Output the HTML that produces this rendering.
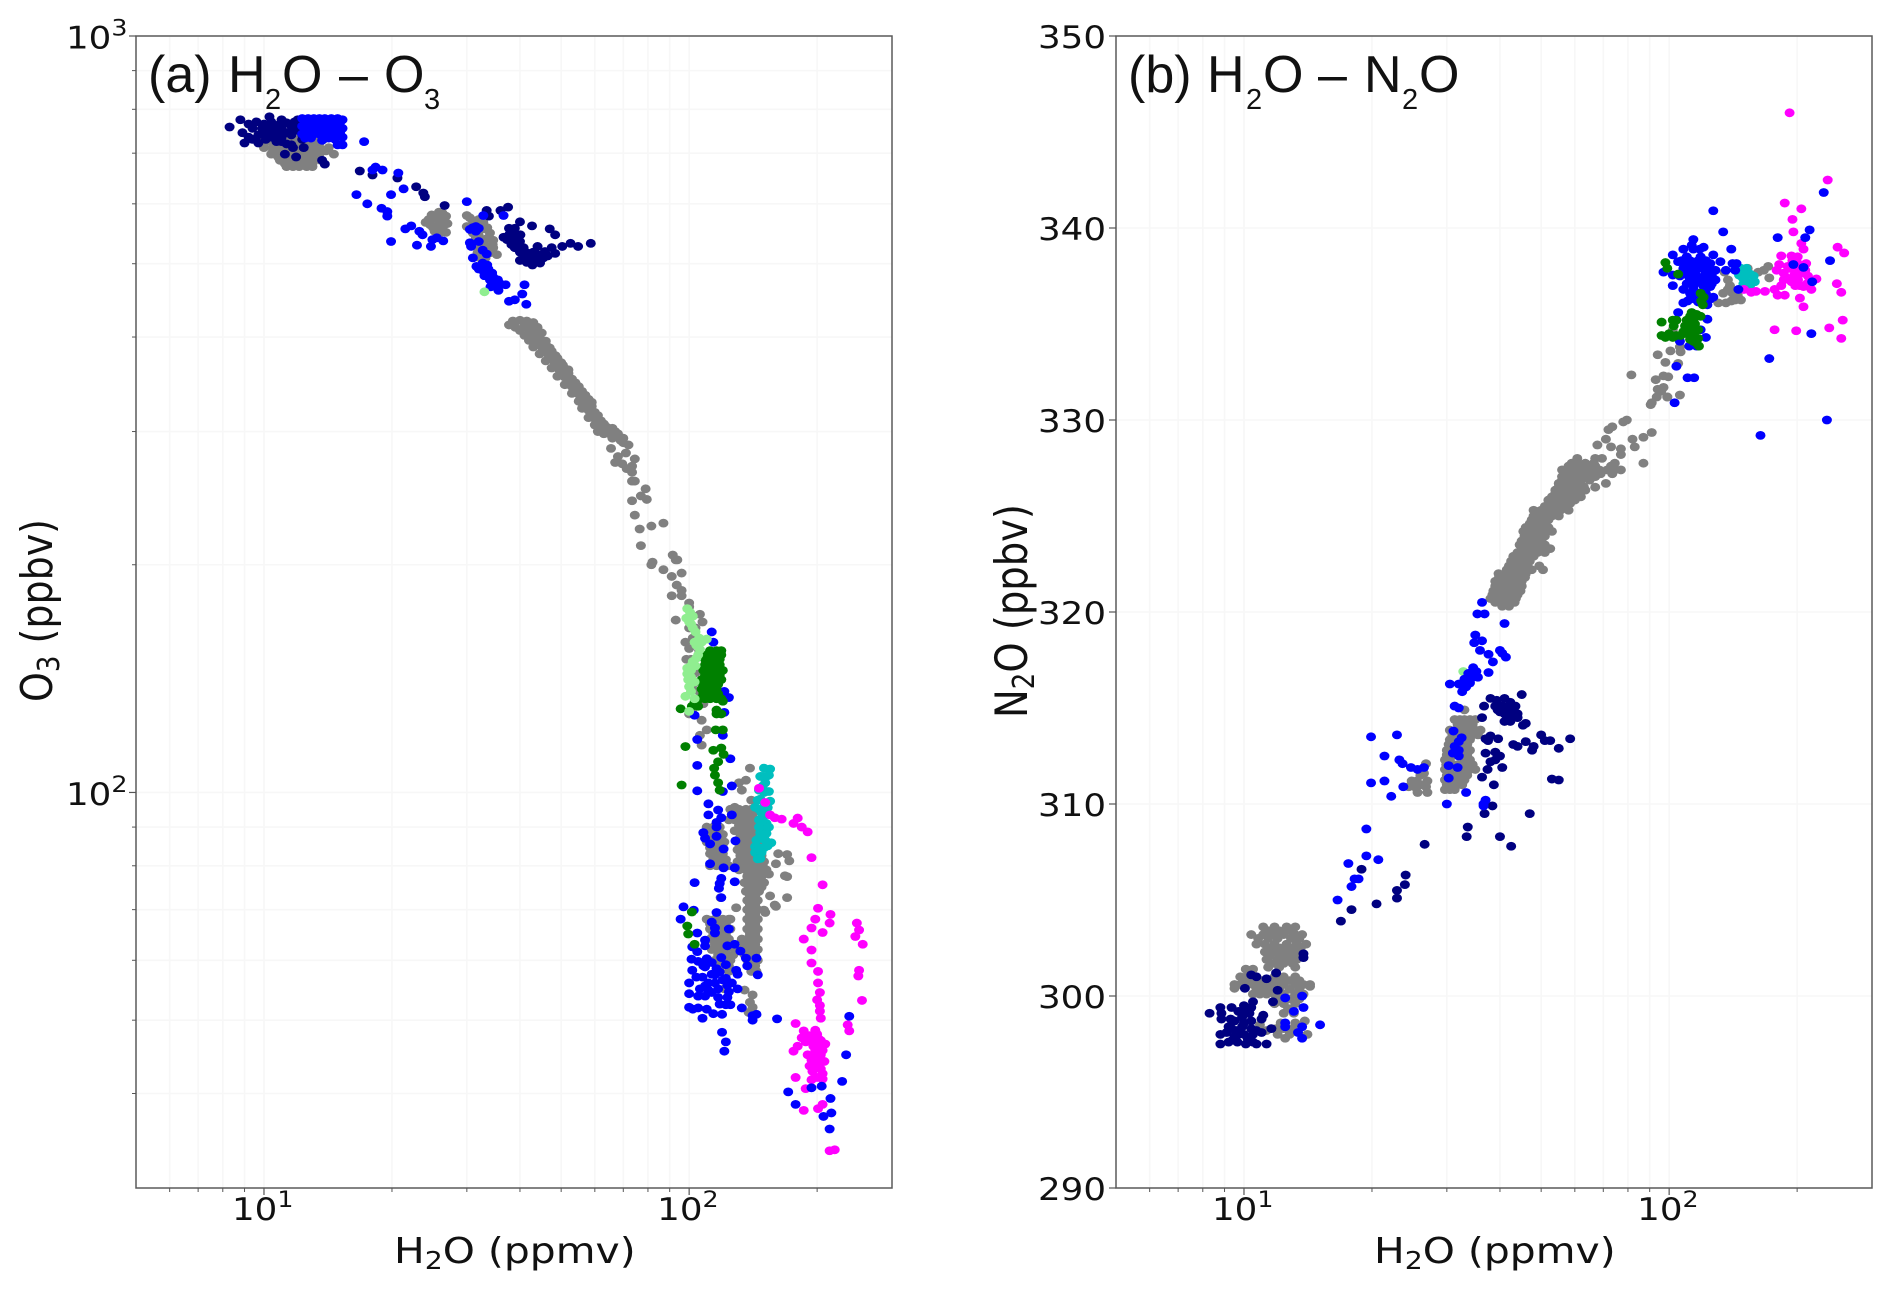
<!DOCTYPE html>
<html lang="en">
<head>
<meta charset="utf-8">
<title>H2O tracer correlations</title>
<style>
html,body{margin:0;padding:0;background:#fff;width:1892px;height:1291px;overflow:hidden}
svg{display:block}
text{font-family:"DejaVu Sans","Liberation Sans",sans-serif;fill:#111}
.panel-title{font-family:"Liberation Sans",sans-serif;font-size:52px}
</style>
</head>
<body>
<svg id="figure" xmlns="http://www.w3.org/2000/svg" width="1892" height="1291" viewBox="0 0 1892 1291">
  <rect x="0" y="0" width="1892" height="1291" fill="#fff"/>
  <g id="panelA"></g>
  <g id="panelB"></g>
  <text class="panel-title" y="92"><tspan x="148">(a)</tspan><tspan x="228">H</tspan><tspan x="265" y="109" font-size="29">2</tspan><tspan x="282" y="92">O</tspan><tspan x="339">–</tspan><tspan x="384">O</tspan><tspan x="424" y="109" font-size="29">3</tspan></text>
  <text class="panel-title" y="92"><tspan x="1128">(b)</tspan><tspan x="1207">H</tspan><tspan x="1246" y="109" font-size="29">2</tspan><tspan x="1263" y="92">O</tspan><tspan x="1318">–</tspan><tspan x="1364">N</tspan><tspan x="1402" y="109" font-size="29">2</tspan><tspan x="1419" y="92">O</tspan></text>
  <text transform="translate(394,1263) scale(1.135,1)" font-size="36">H<tspan font-size="25" dy="6">2</tspan><tspan dy="-6">O (ppmv)</tspan></text>
  <text transform="translate(1374,1263) scale(1.135,1)" font-size="36">H<tspan font-size="25" dy="6">2</tspan><tspan dy="-6">O (ppmv)</tspan></text>
  <text transform="translate(52,702) scale(1.15,1) rotate(-90)" font-size="38">O<tspan font-size="26" dy="6">3</tspan><tspan dy="-6"> (ppbv)</tspan></text>
  <text transform="translate(1027,718) scale(1.15,1) rotate(-90)" font-size="38.5">N<tspan font-size="26" dy="6">2</tspan><tspan dy="-6">O (ppbv)</tspan></text>
</svg>
<script>
/* Axis ticks */
const xMajorTicks = [10, 100];
const xMajorExponents = ["1", "2"];
const xMinorTicks = [6, 7, 8, 9, 20, 30, 40, 50, 60, 70, 80, 90, 200];
const o3MajorTicks = [100, 1000];
const o3MajorExponents = ["2", "3"];
const o3MinorTicks = [40, 50, 60, 70, 80, 90, 200, 300, 400, 500, 600, 700, 800, 900];
const n2oMajorTicks = [290, 300, 310, 320, 330, 340, 350];
const n2oTickLabels = ["290", "300", "310", "320", "330", "340", "350"];

/* Panel (a): [H2O ppmv, O3 ppbv] */
const panelAGray = [
[9.6,730],[10.2,730],[10.8,730],[11.4,730],[12,730],[12.6,730],[13.2,730],[13.8,730],
[10,721],[10.5,721],[11,721],[11.5,721],[12,721],[12.5,721],[13,721],[13.5,721],
[10,712],[10.5,712],[11,712],[11.5,712],[12,712],[12.5,712],[13,712],[13.5,712],[14.2,712],
[10.5,705],[11,705],[11.5,705],[12,705],[12.5,705],[13,705],[13.5,705],[14,705],
[10.4,698],[10.8,698],[11.4,698],[11.9,698],[12.4,698],[13,698],[13.5,698],[14.6,698],
[10.8,692],[11.2,692],[11.7,692],[12.2,692],[12.7,692],[13.2,692],
[10.9,685],[11.3,685],[11.7,685],[12.1,685],[12.6,685],[13.1,685],[13.6,685],
[11.2,678],[11.6,678],[12,678],[12.5,678],[13,678],
[11.3,672],[11.7,672],[12.1,672],[12.6,672],[13,672],
[24,567],[24.8,580],[25.8,585],[26.8,578],[27,565],[26.8,550],[25.8,548],[25,558],[25.8,567],[24.4,572],[26.3,558],[25,575],[26,575],[25.2,552],[26.5,570],[24.6,563],[26.3,583],
[30,579],[30,560],[31,549],[32.8,567],[34,549],[34.6,537],[34.6,525],[35.3,514],[33.2,509],[31.8,517],[31,533],[32.8,533],[30.5,575],[33.6,525],[31.5,565],[32,545],
[31,570],[33,556],[33.5,540],[32,525],[33,516],[34.5,530],[31.5,540],[30.8,553],[33.5,558],[32,572],[34,517],[32,510],
[37.7,415],[38.5,420],[40,421],[41.5,420],[43,418],[40,408],[42,410],[44,412],[41,402],[43,404],[45,405],[42,396],[44,396],[46,395],[43,388],[45,388],[47,387],[44.5,380],[46.5,380],[48.5,378],[46,372],[48,372],[50,370],[47.5,364],[49.5,362],[52,362],[49,355],[51,354],[53,352],[51,346],[53,344],[55,344],[53,337],[55,336],[57,335],[55,329],[57,328],[59,328],[56,322],[58,320],[60,318],[58,313],[60,312],[62,310],[60,306],[62,304],[64,304],[66,303],[61,300],[63,298],[65,298],[68,298],[70,290],[66,294],[69,292],[71,281],[74.5,276],[67,273],[69.6,272],[71.3,268],[73.4,265],[73.4,270],[68,278],[65.5,285],
[39,412],[41,414],[43,411],[42.5,399],[44.5,400],[44,392],[46,391],[45.5,384],[47.5,383],[47,376],[49,375],[48.5,368],[50.5,367],[50,358],[52,358],[52,349],[54,348],[54,340],[56,339],[56,332],[58,331],[57,325],[59,324],[59,316],[61,315],[61,308],[63,307],[62,301],[64,301],[67,300],[70,294],[72,288],
[73.4,258],[74.5,258],[79,252],[77,246.6],[79.5,244],[73.4,243],[74.5,232.6],[76.5,223],[81.5,225],[87,227],[77,212],
[82,201.6],[91.5,206],[93.8,203],[81.5,200],[93,203],[87,197],[91,193],[96,195],[93.5,188],[96,185],[91,182],[96,182],[100,178],[106,172],[93,169],[107.5,168],[98,158],[100,155],[98.5,150],
[100,176],[103.5,165],[105.6,154],[101,150],[103.5,144],[101.5,138],[105.6,136],[108,131],[101.5,128],[100,127],[107,124.6],[110,121],[106,119],[107,115.5],[102,160],[101,172],[104,158],[100,165],[104,140],
[139,107.7],[136,103.8],[131,103],[133,100.7],[140,97.7],[128,95.6],[131,93.4],
[125,95],[131,95],[136,95],[140,95],[124,92],[128,92],[133,92],[138,92],[143,92],[128,89],[133,89],[138,89],[143,89],[130,86],[135,86],[140,86],[146,86],[130,84],[135,84],[140,84],[146,84],[130,81],[135,81],[140,81],[146,81],[150,81],[131,79],[136,79],[141,79],[146,79],[152,79],[135,76],[140,76],[145,76],[150,76],[136,74],[141,74],[146,74],[140,72],[144,72],
[126,93.5],[131,93.5],[136,93.5],[141,93.5],[131,90.5],[136,90.5],[141,90.5],[132,87.5],[137,87.5],[143,87.5],[132,85],[138,85],[143,85],[132,82.5],[138,82.5],[143,82.5],[148,82.5],[133,80],[138,80],[143,80],[149,80],[137,77.5],[142,77.5],[148,77.5],[138,75],[143,75],[148,75],[139,73],[143,73],
[162,83],[170,82.8],[160,80.5],[172,81.2],[168,77.6],[170,77.4],[154,78],[148,76],[155,73],[170,72.6],[160,70.7],[150,69.9],[151,69.4],[129,70.4],[159,71],
[137,72],[141,72],[145,72],[137,70],[141,70],[145,70],[137,68],[141,68],[145,68],[137,66],[141,66],[145,66],[137,64],[141,64],[145,64],[133,64],[137,62],[141,62],[145,62],[133,62],[137,60],[141,60],[145,60],[140,58],[144,58],
[139,71],[143,71],[139,69],[143,69],[139,67],[143,67],[139,65],[143,65],[135,63],[139,63],[143,63],[135,61],[139,61],[143,61],[139,59],[143,59],
[110,90],[114,90],[118,90],[110,86],[114,86],[118,86],[121,86],[112,83],[116,83],[120,83],[112,80],[116,80],[120,80],[124,80],[118.6,72.6],[112,67.8],[125,68],
[112,88],[116,88],[120,88],[112,84.5],[116,84.5],[120,84.5],[114,81.5],[118,81.5],[122,81.5],
[110,68],[115,68],[120,68],[124,68],[112,66],[116,66],[120,66],[125,66],[112,64],[116,64],[120,64],[124,64],[113,62],[118,62],[122,62],[128,62],[115,60],[120,60],[125,60],[118,58],[124,58],[121,55],
[112,67],[117,67],[122,67],[114,65],[118,65],[122,65],[115,63],[120,63],[125,63],[117,61],[122,61],[127,61],[119,59],[124,59],
[135,54.8],[141,54],[139,52.8],[141,52],[138,51.2]
];
const panelANavy = [
[8.3,758],[8.8,775],[8.9,745],[9,722],[9.4,755],[9.6,770],[9.7,740],[9.7,722],[10,765],[10,745],[10.1,730],[10.3,782],[10.5,760],[10.6,740],[10.7,725],[11,775],[11,755],[11,735],[11.3,720],[11.6,760],[11.6,740],[12,775],[12,750],[12.3,730],[12.5,745],[13,760],[13,740],[13.5,750],
[9.2,765],[9.2,735],[9.9,755],[10.4,770],[10.3,750],[10.4,735],[10.9,765],[10.8,748],[11.3,768],[11.3,745],[11.7,750],[11.8,770],[12,760],[12.3,740],[12.5,765],[11,725],[9.4,730],
[11.6,718],[12.4,712],[11.2,698],[11.9,692],[13.7,685],[13.9,677],[11.7,712],
[16.8,663],[18,655],[20.6,649],[22.8,632],[23.7,620],[23.9,613],[26.6,597],
[33.4,588],[33.8,578],[36,588],[37.5,594],[40,568],[42.7,561],[47,556],[48.4,546],[36.6,542],[37.7,557],[38.9,557],[40.1,546],[38,538],[39.4,534],[38.9,525],[37.7,546],[40.8,525],
[38.5,548],[37.3,538],[39,540],[40,535],[38.2,530],[40,518],[42,510],[43,505],[44.5,507],[46.5,512],[43,518],[41,512],
[40,505],[41.5,517],[42.8,498],[41.5,502],[44,527],[44.6,501],[44,514],[45.8,519],[47.5,525],[48.4,516],[45.4,509],[50.3,527],[52.6,532],[54.8,527],[58.7,532]
];
const panelABlue = [
[12.3,778],[12.7,778],[13.1,778],[13.5,778],[13.9,778],[14.4,778],[14.9,778],[15.3,775],
[12.5,769],[12.9,769],[13.3,769],[13.7,769],[14.2,769],[14.7,769],[15.1,769],
[12.3,760],[12.7,760],[13.1,760],[13.5,760],[13.9,760],[14.4,760],[14.9,760],[15.3,755],
[12.5,751],[12.9,751],[13.3,751],[13.7,751],[14.2,751],[14.7,751],[15.1,745],
[12.3,742],[12.7,742],[13.1,742],[13.5,742],[13.9,742],[14.4,742],[14.9,742],[15.3,735],[13.7,728],[14.9,718],[15.3,718],[12.5,733],[12.9,733],[14.2,733],[14.7,730],
[17.2,725],[18,665],[18.3,671],[19,665],[20.7,659],[16.5,617],[17.5,600],[18.9,592],[19.5,586],[19.5,578],[19.9,617],[21.3,628],[19.9,535],[21.5,556],[22.2,561],[23.2,552],[23.6,546],[22.9,529],[24.7,527],[24.9,538],[25.5,541],[26.4,536],
[30,604],[32.8,579],[31.5,560],[30.5,555],[32,557],[30.5,533],[30.7,527],[32,535],[32.7,521],[33.4,515],[31,509],[31.6,496],[32.7,501],[33.5,498],[33.7,492],[32.8,489],[34.4,486],[34.6,480],[35.5,476],[36,470],[34.1,466],[35.3,465],[37,469],[35.6,461],[36.6,579],[41,469],[40.5,456],[41.4,442],[37.7,446],[38.9,448],
[31,558],[31.5,552],[32,492],[33,482],[34,476],[35,470],
[113,163],[114,158],[118,153.5],[121,136],[124,133.5],[121,127.6],[103,126.5],[104.5,117.5],[120,119],[125,110.8],[104.5,108.6],[104.5,100.5],[120,100.3],[126,102],[111,96.6],[111,93.4],[117,94.8],[126,93.4],[119,92.6],[116,91.3],[116,90],[108,88.5],[109,87],[116,87.5],[112,85.5],[128.5,86.3],[120.5,84.2],[112,80.5],[120.5,79.5],[128,79.5],[103,76],[128,76.2],[119,77],[118,75.8],[117.5,74.7],[119,72.6],
[97,70.6],[102.5,69.9],[95.5,68],[116,69.4],[113,67.4],[115,66.2],[115,65.2],[124,66],[104.5,65.2],[109,63.8],[109,62.7],[123,62.7],[128,63],[132,61.7],[101.7,62.5],[104.5,61.6],[136,60.4],[144,60.4],[101.3,60.2],[137,59],[145,57.4],
[105,59.8],[113,59.6],[122,59.2],[109,58.8],[101.7,58.2],[118,57.9],[129,58.2],[130,57.5],[107.5,57],[115,57.4],[122,56.8],[100,56],[111,56],[109,55.5],[123,55.6],[117,55],[130,55],[113,54.4],[100,54.2],[105,53.8],[109,53.8],[117,53.6],[123,53.6],[100,52],[105,51.9],[102,51.7],[110,51.7],[114,51],[119.5,50.9],[107.5,50.3],[122,52.4],[125,52.4],[133,51.9],[141,50.7],[144,50.9],[141,50],
[108,59],[116,58.5],[120,56.5],[111,54.8],[106,55],[118,52.5],[124,54.5],[113,57.5],[104,57],[126,56],[110,60.3],[119,60.5],[115,56],
[119.5,48.2],[122,46.8],[121,45.5],
[161,50.2],[238,50.6],[234,45],[229,41.5],[194,40.7],[205,40.9],[171,40.2],[215,39.4],[178,38.7],[216,37.7],[207,37.3],[214,35.9]
];
const panelALightGreen = [
[33,459],[99,175],[98.5,170],[102,171],[101,167],[103.5,163],[105.6,160],[110,159.5],[104,156.5],[106,154.5],[104,150.5],[101,147],[103.5,147],[99,143.5],[103,140],[100,138],[98,134],[103,133],[100,128],[101,145],[99,146],
[100.5,173],[100,168],[102,165],[107,158],[103,158],[105,152],[102,149],[101,142],[101,136],[99.5,141]
];
const panelAGreen = [
[112,154],[116,154],[119,154],[109,150],[112,150],[115,150],[118,150],[108,145],[111,145],[114,145],[117,145],[120,145],[107,141],[110,141],[113,141],[116,141],[119,141],[107,137],[110,137],[113,137],[116,137],[106,133],[109,133],[112,133],[116,133],[119,133],[120,132],[103,131.5],[101.5,130],
[110,152],[113,152],[116,152],[119,152],[109,147.5],[112,147.5],[115,147.5],[118,147.5],[109,143],[112,143],[115,143],[118,143],[108,139],[111,139],[114,139],[117,139],[108,135],[111,135],[114,135],[117,135],[105,130],
[95.5,129],[116,128.5],[119,127],[116,127],[115.5,121],[120,121],[98,115],[114,113.7],[119,114.5],[120.5,112.3],[117,109.8],[114.5,107.7],[115,105.4],[117,103],[96,102.3],[118,100.7],
[101.5,69.5],[99,66.6],[99.5,65],[103,63]
];
const panelACyan = [
[150,107.7],[155,107.4],[154,105.4],[147,105],[151,103],[146,100.7],[154,100.3],[145,97.7],[155,97.4],[150,97],[143,95.6],[148,94],[146,92],[152,91],[148,90],[152,88.3],[146,87],[156,85.8],[143,84.8],[150,84.5],[143,83.3],[148,83.3],[145,81.7],[151,86.5],
[149,105],[152,105],[150,100],[150,95],[146,95],[152,93.5],[147,88.5],[150,88],[146,84.5],[147,81.8],[153,95.5],[147,98],[149,102],[154,90],[153,85],[144,86.5],[146,90],[149,92]
];
const panelAMagenta = [
[146,101.3],[151,97],[155,93.4],[159,92.6],[165,92.2],[180,92.5],[176,91],[184,90],[190,88.7],[194,82],[206,75.5],[201,70.3],[215,69],[198,68],[214,67.2],[194,66.2],[206,65.3],[186,64],[194,61.9],[248,67.2],[251,65.8],[246,64.5],[256,63],
[194,59.5],[201,58],[201,56],[203,54.4],[200,53.2],[203,52.3],[203,51.4],[204,50.3],[251,58.2],[250,57.2],[255,53.1],[236,49.3],[238,48.4],
[178,49.5],[186,48.4],[198,48.5],[200,47.9],[184,47.4],[192,47.7],[195,47],[209,46.5],[180,46.2],[176,45.5],[201,46.4],[206,45.6],[198,45.6],[190,45],[194,44.3],[204,45],[208,44.1],[201,43.9],[192,43.5],[204,43.1],[195,42.8],[206,42.5],[178,42],[194,41.7],[206,41.8],[188,40.6],[186,38],[201,38.2],[206,38.7],[214,33.6],[220,33.7],
[196,46.2],[202,47.2],[204,44],[199,44.8],[198,43.2],[200,42],[188,46.8],[204,47]
];

/* Panel (b): [H2O ppmv, N2O ppbv] */
const panelBGray = [
[11.1,303.6],[11.8,303.6],[12.6,303.6],[13.2,303.6],
[11.4,303.4],[12.1,303.4],[12.9,303.4],
[10.4,303.2],[11.1,303.2],[11.7,303.2],[12.4,303.2],[13.2,303.2],[13.7,303.2],
[10.8,303],[11.4,303],[12,303],[12.9,303],[13.5,303],
[10.7,302.7],[11.2,302.7],[11.8,302.7],[12.6,302.7],[13.3,302.7],[14,302.7],
[11.5,302.5],[12.2,302.5],[12.9,302.5],[13.6,302.5],
[11.2,302.3],[11.8,302.3],[12.6,302.3],[13.3,302.3],
[11.5,302.1],[12.2,302.1],[12.9,302.1],
[11.3,301.9],[12,301.9],[12.7,301.9],[13.3,301.9],
[11.7,301.7],[12.4,301.7],[13,301.7],
[11.4,301.5],[12.1,301.5],[13.2,301.5],
[10.1,301.4],[10.5,301.4],[9.8,301],[10.1,301],[11.8,301],[12.4,301],[13.2,301],
[10,300.8],[10.3,300.8],[11,300.8],[11.5,300.8],[12.1,300.8],[12.8,300.8],[13.5,300.8],
[9.5,300.6],[9.8,300.6],[10.1,300.6],[10.5,300.6],[10.9,300.6],[11.3,300.6],[11.8,300.6],[12.4,300.6],[13.2,300.6],[13.8,300.6],[14.3,300.6],
[10.7,300.35],[11.1,300.35],[11.5,300.35],[12.1,300.35],[12.8,300.35],[13.5,300.35],
[10.5,300.1],[10.9,300.1],[11.3,300.1],[11.8,300.1],[12.4,300.1],[13.2,300.1],[13.8,300.1],
[12.1,299.85],[12.8,299.85],[13.5,299.85],
[11.8,299.6],[12.4,299.6],[13.2,299.6],[12.4,299.1],[13.1,299.1],[12.7,299.35],[9.5,300.4],[14.3,300.5],
[10.9,298.5],[12.2,298.6],[13.2,298.6],[13.9,298.7],[12,298],[12.5,297.8],[12.8,298],[14.1,298],[11.3,298.2],[12.4,298.3],[13,298.3],[11.9,298.3],
[26.8,312.1],[26.5,311.6],[25.5,311.2],[27,311.2],[24.4,310.9],[25.6,310.6],[27,310.6],[26,311],[24.8,311.2],[26,311.5],[26.8,310.9],[25.2,310.9],
[33,314.9],[31.3,314.4],[32.2,314.4],[33,314.4],[34,314.4],[35,314.4],[30.5,313.85],[32.2,313.85],[33,313.85],[34,313.85],[35,313.85],[36,313.85],[30.5,313.35],[33,313.35],[34,313.35],[30,312.8],[33,312.8],[34,312.8],[29.7,312.3],[30.5,312.3],[33,312.3],[34,312.3],[29.7,311.8],[30.5,311.8],[33,311.8],[34,311.8],[35,311.8],[29.7,311.25],[30.5,311.25],[31.3,311.25],[32.2,311.25],[33,311.25],[29.7,310.75],[30.5,310.75],[31.3,310.75],
[31.8,314.15],[32.6,314.15],[33.5,314.15],[34.5,314.15],[30.9,313.6],[31.6,313.6],[32.6,313.6],[33.5,313.6],[34.5,313.6],[35.5,313.6],[30.3,313.1],[31,313.1],[31.8,313.1],[32.6,313.1],[33.5,313.1],[30,312.55],[31,312.55],[31.8,312.55],[32.6,312.55],[33.5,312.55],[29.9,312.05],[31,312.05],[31.8,312.05],[32.6,312.05],[33.5,312.05],[34.5,312.05],[30,311.5],[31,311.5],[31.8,311.5],[32.6,311.5],[33.5,311.5],[30,311],[31,311],[31.8,311],[32.6,311],
[40.5,320.3],[42,320.3],[38,320.7],[39.3,320.7],[41,320.7],[42.3,320.7],[43.6,320.7],[38.6,321.1],[40,321.1],[41.6,321.1],[43,321.1],[44.7,321.1],[39,321.6],[40.5,321.6],[42,321.6],[43.6,321.6],[45,321.6],[39.7,322],[41.3,322],[43,322],[44.7,322],[46,322],[42,322.4],[43.6,322.4],[45.4,322.4],[46.5,322.4],[49.5,322.4],[50.5,322.2],[43,322.9],[44.7,322.9],[46,322.9],[48,322.9],[45,323.3],[46.5,323.3],[48,323.3],[50,323.3],[52.5,323.3],[45,323.7],[46.5,323.7],[48,323.7],[50,323.7],[45.4,324.2],[47,324.2],[48.6,324.2],[50.5,324.2],[53,324.2],[47,324.6],[48,324.6],[50,324.6],[48,325],[49.5,325],[51,325],[53,325],[55,325],[48,325.3],[50,325.3],[51.5,325.3],[53.5,325.3],[55.5,325.3],[58,325.3],[52.5,325.66],[54.5,325.66],[56.5,325.66],[58.5,325.66],[53,326],[55,326],[57,326],[59,326],[62,326],[54,326.35],[56,326.35],[58,326.35],[60,326.35],[63.5,326.35],[67,326.5],[55,326.7],[57,326.7],[59,326.7],[61,326.7],[71,326.7],[56,327.05],[58,327.05],[60,327.05],[62,327.05],[64.5,327.05],[67,327.05],[56,327.4],[58.5,327.4],[60.8,327.4],[62.8,327.4],[65.2,327.4],[68.5,327.4],[71.5,327.4],[74.5,327.4],[77,327.4],[73.5,327.2],[59,327.75],[61,327.75],[63.5,327.75],[66.5,327.75],[74.5,327.75],[60.8,328],[67,328],[69.5,328],
[39,320.5],[40.5,320.5],[42,320.5],[43.3,320.5],[38.4,320.9],[39.8,320.9],[41.3,320.9],[42.8,320.9],[44,320.9],[39,321.35],[40.5,321.35],[42,321.35],[43.5,321.35],[45,321.35],[39.8,321.8],[41.2,321.8],[42.8,321.8],[44.3,321.8],[45.8,321.8],[41.5,322.2],[43,322.2],[44.5,322.2],[46,322.2],[47.5,322.2],[42.5,322.65],[44,322.65],[45.6,322.65],[47,322.65],[44,323.1],[45.7,323.1],[47.2,323.1],[49,323.1],[51,323.1],[44.5,323.5],[45.7,323.5],[47.2,323.5],[49,323.5],[51,323.5],[45.7,323.95],[47.2,323.95],[49,323.95],[51,323.95],[46,324.4],[47.5,324.4],[49,324.4],[51,324.4],[52,324.4],[47.5,324.8],[49,324.8],[50.5,324.8],[52,324.8],[49,325.15],[50.5,325.15],[52,325.15],[54,325.15],[51,325.5],[53,325.5],[55,325.5],[57,325.5],[52,325.83],[54,325.83],[56,325.83],[58,325.83],[60,325.83],[54,326.17],[56,326.17],[58,326.17],[60,326.17],[61,326.17],[55,326.52],[57,326.52],[59,326.52],[61,326.52],[63,326.52],[56,326.87],[58,326.87],[60,326.87],[62,326.87],[65,326.87],[57,327.2],[59,327.2],[61,327.2],[63.5,327.2],[66,327.2],[69,327.2],[58,327.6],[60,327.6],[62,327.6],[64.5,327.6],[67,327.6],[73,327.6],
[67.8,328.7],[71,329],[73,328.6],[77,328.5],[77,328.2],[72,329.5],[73.5,329.65],[78,329.9],[79.5,330],[82,329],[83,328.6],[87,329.1],[91,329.35],[87,327.75],[90.5,330.8],[93.5,331.2],[99,331.2],[106,331.3],[95.8,331.5],
[81.5,332.35],[91,330.9],[93,332.1],[97,332.3],[99.5,332.25],[94,331.6],[97,331.7],[99,331.2],[94,333.4],[98,333],[100.7,333.6],[105,332.95],[106.4,333.55],
[137.5,337.3],[137.5,336.8],[136,336.1],[143,336.25],[147.5,336.25],[130.5,336.1],[141,336.6],[162,337.7],[171,338],[172,337.4],[153,337.9],[106,333.8],[102,334.7],[135,337.7],[140,336.2],[134,336.6],[139,337],[145,336.5],[167,337.8]
];
const panelBNavy = [
[8.3,299.1],[8.8,299.4],[8.85,299.1],[8.85,298.8],[9.35,299.4],[10,299.5],[10.5,299.7],[10.4,299.4],[9.9,298.9],[9.3,298.8],[11.1,299],[11,298.8],[9.35,298.3],[8.8,298],[8.8,297.5],[9.1,298.1],[9.5,297.9],[9.2,297.6],[9.9,298.4],[10.4,298.3],[10,298],[10.5,298],[11,298.1],[10.1,297.5],[10.5,297.6],[10.7,297.5],[11.3,297.5],[9.65,297.6],[11.6,298.3],[10.05,300.4],[10.4,301.1],[10.7,301],[11.3,300.9],[11.9,301.2],[12,300.3],[11.7,299.7],[13.8,302.2],[13.8,302],[9.7,299.2],[9.6,298.2],[10.2,299.1],[10.2,297.8],
[9.5,298.7],[10,298.6],[10.4,298.7],[9.2,298.4],[9.7,298],[10.3,297.7],[10.7,298.2],[9.9,299.2],[10.3,299.1],[9.4,297.7],
[18.9,306.6],[17.9,304.5],[16.9,303.9],[20.5,304.8],[22.9,305.1],[22.9,305.5],[23.9,305.8],[24,306.3],[26.6,307.9],[38.4,309.9],[36.8,309.5],[33.6,308.8],[33.4,308.3],[40,308.3],[42.5,307.8],
[45,315.7],[58.5,313.4],[50,313.6],[51,313.3],[52.5,313.3],[55,312.9],[46,313.25],[48,313],[43,313.1],[44,313],[47.6,312.8],[53,311.3],[55,311.25],[47,309.5],
[38,315.5],[39.3,315.4],[41,315.5],[42.3,315.3],[39,315.1],[40.5,315.1],[42,315.1],[43.5,315.1],[44,314.7],[43,314.6],[44,314.5],[41,314.3],[42.3,314.3],[46,314.2],[45.3,314.1],[36.7,315.1],[36.3,314.5],[41.5,314.9],
[40,314.8],[41,314.7],[42.5,314.7],[39.5,314.9],[42,314.4],[43,314.9],
[37,313.4],[38,313.55],[39.6,313.4],[37.5,313.3],[37,312.65],[39,312.7],[40,312.5],[39,312.3],[38,312.2],[37.4,311.8],[40.5,311.9],[36.3,311.4],[38.7,311]
];
const panelBBlue = [
[12.5,299.9],[13.7,300],[13.8,299.4],[13.1,299.2],[12.5,298.6],[12.5,298.4],[15.1,298.5],[13.7,298.4],[13.4,298.1],[13.7,297.8],
[19.9,313.5],[22.9,313.6],[21.4,312.5],[23.2,312.3],[23.6,312.1],[24.7,311.9],[25.6,311.8],[26.5,311.9],[19.9,311.1],[21.4,311.2],[23.7,310.9],[22.2,310.4],[19.4,308.7],[19.4,307.3],[20.7,307.1],[17.6,306.9],[18.6,306.1],[18.2,306.1],[17.9,305.7],[16.6,305],[30,310],[33.3,310.6],[36.6,310],[36.6,309.9],[37,310.2],
[36.3,320.5],[35.4,319.9],[36.8,319.9],[41,319.4],[35,318.8],[36.3,318.5],[34.8,318.4],[35.9,318],[37.6,317.8],[40,318],[40.5,317.85],[41.3,317.65],[38.5,317.4],[37.6,316.85],
[34.6,317.1],[35.2,316.9],[33.7,316.8],[34.5,316.6],[35.5,316.6],[33,316.5],[34,316.3],[30.5,316.25],[32,316.25],[32.8,316.1],[33.3,316.1],[32.6,315.85],[31.3,315.1],[32,315],
[31.1,313.8],[32.5,313.45],[32,313.25],[31.3,313],[31,312.65],[32,312.8],[32,312.5],[30.3,312],[31.8,311.9],[30.3,311.35],
[127,340.9],[134,339.8],[140,338.9],[114,339.4],[113,339.1],[108,338.9],[120.5,339],[127,338.6],[102,338.6],[132,338.25],
[97,337.7],[102,337.55],[105,338.25],[110,338.5],[118.6,338.5],[110,338.1],[114,338.15],[120.5,338.15],[125,338.15],[110.5,337.7],[115,337.65],[122,337.7],[128.5,337.8],[112,337.3],[117,337.2],[123,337.3],[128.5,337.3],[114,336.85],[120.5,336.95],[125,336.95],[102,337],[108,336.8],
[107,338.3],[112,338.3],[117,338.3],[122,338.3],[108,337.9],[113,337.9],[118,337.9],[124,337.9],[106,337.5],[111,337.5],[116,337.5],[121,337.5],[126,337.5],[110,337.1],[115,337.1],[120,337.1],[126,337.1],[112,336.6],[117,336.6],[122,336.6],[112,336.3],[115,336.3],[121,336.3],[125,336.3],[114,338.9],[118,338.9],
[110.5,336.2],[108,336.1],[117,336.15],[127,336.4],[123,336],[105,335.6],[123,335.25],[118.6,334.7],[122,334.3],[106,334.1],[111.5,333.85],[116,333.85],
[136,337.8],[143,337.8],[141,338.15],[144,338.15],[145.5,336.8],[104,332.8],[110.5,332.2],[114.5,332.2],[103,330.9],[172,333.2],[164,329.2],[235,330],[231,341.85],[214,339.9],[209,339.5],[180,339.5],[239,338.3],[196,338.1],[207,337.95],[217,337.2],[216,334.5]
];
const panelBLightGreen = [[32.8,316.9]];
const panelBGreen = [
[98,338.2],[99,337.9],[105,337.6],[118.6,336.6],[120.5,336.4],[120,336],[96,335.1],[102,335.2],[104,335.2],[96,334.4],[98,334.3],[102,334.3],[106.4,334.4],
[113,335.6],[118.6,335.4],[110,335.2],[114,335.2],[109,334.9],[113,334.9],[117,334.7],[110,334.5],[114,334.4],[117,334.25],[114,334.1],[117.5,333.85],[102.5,334.9],
[112,335],[115,335],[111,334.7],[115,334.6],[112,334.2],[116,334],[112,335.4],[116,335.5],[108,334.6],[104,334.4],[100,334.5],[119,336.2]
];
const panelBCyan = [
[147.5,337.9],[152,337.9],[146,337.55],[152,337.55],[158,337.5],[149.5,337.1],[155,337],[159,337.2],[150,337.7],[155,337.6],[152,337.2],[149,337.4]
];
const panelBMagenta = [
[192,346],[236,342.5],[187,341.3],[204.6,341],[195,340.45],[196,339.8],[204.6,339.2],[207,338.9],[249,339],[258,338.7],[183.5,338.55],[181.5,338.1],[179,337.8],[194,338.55],[200.6,338.5],[210,338.15],[190,338],[200,338.2],[186,337.65],[197,337.55],[204.6,337.65],[212,337.5],[222,337.35],[194,337.2],[200,337.1],[207,336.95],[216,336.8],[248,337.1],[254,336.65],
[183.5,337],[177,336.8],[180,336.5],[187,336.5],[203,336.35],[207,335.9],[168,336.7],[160,336.7],[156,336.65],[150,336.8],[177,334.7],[199,334.65],[238,334.8],[256,335.2],[254,334.25],
[192,337.9],[198,337.8],[189,337.4],[201,337.3],[205,338],[195,338.3],[209,337.8],[203,337],[211,337.1],[186,337.3],[198,337]
];

const SVG_NS = "http://www.w3.org/2000/svg";
const logScale = (d0, d1, r0, r1) => v => r0 + (Math.log10(v) - Math.log10(d0)) / (Math.log10(d1) - Math.log10(d0)) * (r1 - r0);
const linScale = (d0, d1, r0, r1) => v => r0 + (v - d0) / (d1 - d0) * (r1 - r0);

function svgEl(tag, attrs, parent) {
  const el = document.createElementNS(SVG_NS, tag);
  for (const k in attrs) el.setAttribute(k, attrs[k]);
  parent.appendChild(el);
  return el;
}

function drawGrid(parent, xs, ys, xVals, yVals, left, right, top, bottom) {
  xVals.forEach(v => {
    const l = svgEl("line", {x1: xs(v), x2: xs(v), y1: top, y2: bottom, stroke: "#f7f7f7", "stroke-width": 1.6}, parent);
    
    
  });
  yVals.forEach(v => {
    const l = svgEl("line", {x1: left, x2: right, y1: ys(v), y2: ys(v), stroke: "#f7f7f7", "stroke-width": 1.6}, parent);
    
    
  });
}

function drawDots(parent, points, color, xs, ys, seriesName) {
  points.forEach(p => {
    const c = svgEl("ellipse", {cx: xs(p[0]), cy: ys(p[1]), rx: 5, ry: 4.4, fill: color}, parent);
    
    
  });
}

function drawFrame(parent, left, right, top, bottom) {
  const f = svgEl("rect", {x: left, y: top, width: right - left, height: bottom - top, fill: "none", stroke: "#5a5a5a", "stroke-width": 1.5}, parent);
  
  
}

function drawXTicks(parent, xs, bottom) {
  xMinorTicks.forEach(v => {
    const t = svgEl("line", {x1: xs(v), x2: xs(v), y1: bottom, y2: bottom + 4, stroke: "#555", "stroke-width": 1}, parent);
    
    
  });
  xMajorTicks.forEach((v, i) => {
    const t = svgEl("line", {x1: xs(v), x2: xs(v), y1: bottom, y2: bottom + 7, stroke: "#555", "stroke-width": 1.2}, parent);
    
    
    const label = svgEl("text", {transform: "translate(" + (xs(v) - 32) + ",1220) scale(1.15,1)", "font-size": 31}, parent);
    
    
    label.appendChild(document.createTextNode("10"));
    const sup = svgEl("tspan", {"font-size": 22, dy: -13}, label);
    sup.textContent = xMajorExponents[i];
  });
}

function drawLogYTicks(parent, ys, left) {
  o3MinorTicks.forEach(v => {
    const t = svgEl("line", {x1: left - 4, x2: left, y1: ys(v), y2: ys(v), stroke: "#555", "stroke-width": 1}, parent);
    
    
  });
  o3MajorTicks.forEach((v, i) => {
    const t = svgEl("line", {x1: left - 7, x2: left, y1: ys(v), y2: ys(v), stroke: "#555", "stroke-width": 1.2}, parent);
    
    
    const label = svgEl("text", {transform: "translate(66," + (ys(v) + 12.5) + ") scale(1.15,1)", "font-size": 31}, parent);
    
    
    label.appendChild(document.createTextNode("10"));
    const sup = svgEl("tspan", {"font-size": 22, dy: -13}, label);
    sup.textContent = o3MajorExponents[i];
  });
}

function drawLinYTicks(parent, ys, left) {
  n2oMajorTicks.forEach((v, i) => {
    const t = svgEl("line", {x1: left - 7, x2: left, y1: ys(v), y2: ys(v), stroke: "#555", "stroke-width": 1.2}, parent);
    
    
    const label = svgEl("text", {transform: "translate(1106," + (ys(v) + 12) + ") scale(1.15,1)", "font-size": 31, "text-anchor": "end"}, parent);
    
    
    label.textContent = n2oTickLabels[i];
  });
}

const allXGrid = xMajorTicks.concat(xMinorTicks);

/* Panel (a) */
(function () {
  const g = document.getElementById("panelA");
  const left = 136, right = 892, top = 36, bottom = 1188;
  const xs = logScale(5, 300, left, right);
  const ys = logScale(30, 1000, bottom, top);
  drawGrid(g, xs, ys, allXGrid, o3MajorTicks.concat(o3MinorTicks), left, right, top, bottom);
  drawDots(g, panelAGray, "#808080", xs, ys, "gray-point");
  drawDots(g, panelANavy, "#000080", xs, ys, "navy-point");
  drawDots(g, panelACyan, "#00bfbf", xs, ys, "cyan-point");
  drawDots(g, panelAMagenta, "#ff00ff", xs, ys, "magenta-point");
  drawDots(g, panelABlue, "#0000ff", xs, ys, "blue-point");
  drawDots(g, panelAGreen, "#008000", xs, ys, "green-point");
  drawDots(g, panelALightGreen, "#90ee90", xs, ys, "lightgreen-point");
  drawFrame(g, left, right, top, bottom);
  drawXTicks(g, xs, bottom);
  drawLogYTicks(g, ys, left);
})();

/* Panel (b) */
(function () {
  const g = document.getElementById("panelB");
  const left = 1116, right = 1872, top = 36, bottom = 1188;
  const xs = logScale(5, 300, left, right);
  const ys = linScale(290, 350, bottom, top);
  drawGrid(g, xs, ys, allXGrid, n2oMajorTicks, left, right, top, bottom);
  drawDots(g, panelBGray, "#808080", xs, ys, "gray-point");
  drawDots(g, panelBNavy, "#000080", xs, ys, "navy-point");
  drawDots(g, panelBLightGreen, "#90ee90", xs, ys, "lightgreen-point");
  drawDots(g, panelBCyan, "#00bfbf", xs, ys, "cyan-point");
  drawDots(g, panelBMagenta, "#ff00ff", xs, ys, "magenta-point");
  drawDots(g, panelBBlue, "#0000ff", xs, ys, "blue-point");
  drawDots(g, panelBGreen, "#008000", xs, ys, "green-point");
  drawFrame(g, left, right, top, bottom);
  drawXTicks(g, xs, bottom);
  drawLinYTicks(g, ys, left);
})();
</script>
</body>
</html>
